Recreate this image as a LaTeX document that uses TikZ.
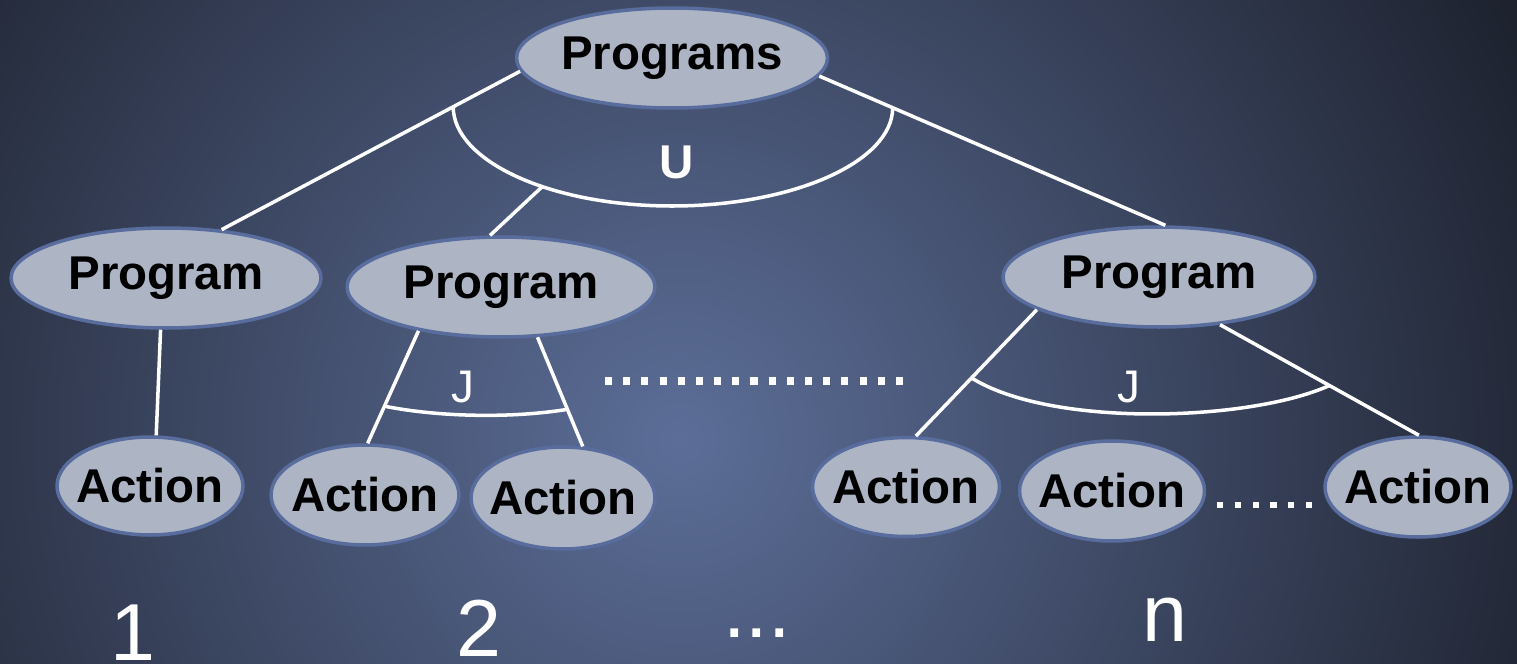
\documentclass[tikz,border=0pt]{standalone}
\usepackage{fontspec}
\setmainfont{Liberation Sans}
\usetikzlibrary{shapes.geometric}
\definecolor{bginner}{RGB}{92,110,152}
\definecolor{bgouter}{RGB}{28,32,44}
\definecolor{ovalfill}{RGB}{173,180,196}
\definecolor{ovalline}{RGB}{88,108,158}
\begin{document}
\begin{tikzpicture}[x=0.02cm,y=-0.02cm,
	oval/.style={ellipse,draw=ovalline,fill=ovalfill,line width=2pt,inner xsep=-5pt,inner ysep=0pt,font=\fontsize{27}{30}\selectfont\bfseries},
	link/.style={white,line width=2pt},
	opname/.style={white,anchor=base,inner sep=0pt},
	dotrow/.style={white,line width=4pt,dash pattern=on 4pt off 6.35pt},
	count/.style={white,anchor=base,inner sep=0pt,font=\fontsize{46}{50}\selectfont}]
				\useasboundingbox (0,0) rectangle (1517,663);
				\begin{scope}
				\clip (0,0) rectangle (1517,663);
				\fill[bgouter] (0,0) rectangle (1517,663);
				\shade[inner color=bginner,outer color=bgouter] (680,440) circle (960);
				\end{scope}
				\node (top) [oval,minimum width=6.22cm,minimum height=2cm,at={(672,58)}] {Programs};
				\node (prog1) [oval,minimum width=6.2cm,minimum height=2cm,at={(166,278)}] {Program};
				\node (prog2) [oval,minimum width=6.16cm,minimum height=2cm,at={(501,287)}] {Program};
				\node (prog3) [oval,minimum width=6.24cm,minimum height=2cm,at={(1159,277)}] {Program};
				\node (act1) [oval,minimum width=3.72cm,minimum height=1.96cm,at={(150,486)}] {Action};
				\node (act2) [oval,minimum width=3.76cm,minimum height=2cm,at={(365,495)}] {Action};
				\node (act3) [oval,minimum width=3.68cm,minimum height=2.04cm,at={(563,498)}] {Action};
				\node (act4) [oval,minimum width=3.74cm,minimum height=1.98cm,at={(906,487)}] {Action};
				\node (act5) [oval,minimum width=3.7cm,minimum height=2cm,at={(1112,491)}] {Action};
				\node (act6) [oval,minimum width=3.72cm,minimum height=2cm,at={(1418,487)}] {Action};
				\draw[link] (top.185) -- (prog1.41) coordinate[pos=0.224] (uleft);
				\draw[link] (top.353) -- (prog3.83) coordinate[pos=0.212] (uright);
				\coordinate (ubottom) at (672,206);
				\draw[link] (uleft) .. controls +(0,54) and +(-122,0) .. (ubottom) coordinate[pos=0.6] (ujoin) .. controls +(121,0) and +(0,54) .. (uright);
				\draw[link] (ujoin) -- (prog2.102);
				\draw[link] (prog1.264) -- (act1.83);
				\draw[link] (prog2.208) -- (act2.87) coordinate[pos=0.67] (jleft);
				\draw[link] (prog2.306) -- (act3.69) coordinate[pos=0.66] (jright);
				\draw[link] (jleft) .. controls +(55,11) and +(-55,9) .. (jright);
				\draw[link] (prog3.195) -- (act4.79) coordinate[pos=0.54] (kleft);
				\draw[link] (prog3.322) -- (act6.89) coordinate[pos=0.55] (kright);
				\draw[link] (kleft) .. controls +(80,50) and +(-80,36) .. (kright);
				\node (union) [opname,font=\fontsize{27}{30}\selectfont\bfseries,at={(677,178)}] {U};
				\node (join1) [opname,font=\fontsize{26}{30}\selectfont,at={(463,402)}] {J};
				\node (join2) [opname,font=\fontsize{26}{30}\selectfont,at={(1129,402)}] {J};
				\draw[dotrow] (605,381) -- (904,381);
				\draw[dotrow,line width=3.6pt,dash pattern=on 3.6pt off 6.5pt] (1217,505) -- (1313,505);
				\node (num1) [count,at={(133,660)}] {1};
				\node (num2) [count,at={(479,656)}] {2};
				\node (numdots) [count,at={(757,637)}] {...};
				\node (numn) [count,at={(1165,641)}] {n};
				\end{tikzpicture}
\end{document}
